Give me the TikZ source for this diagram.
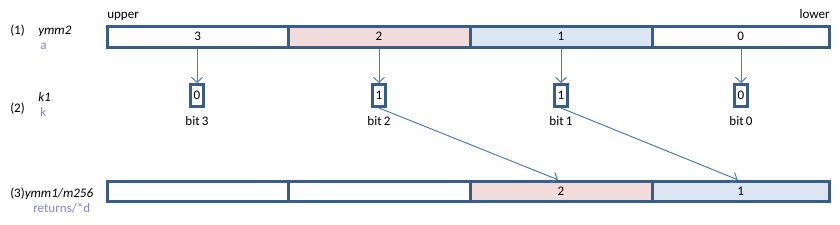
\documentclass[tikz,border=0pt]{standalone}
\usepackage{fontspec}
\setmainfont{Carlito}
\usetikzlibrary{arrows.meta}
\definecolor{bord}{HTML}{385D8A}
\definecolor{pinkc}{HTML}{F2DCDB}
\definecolor{bluec}{HTML}{DCE6F2}
\definecolor{arr}{HTML}{4A7EBB}
\definecolor{lab}{HTML}{8080F0}
\def\px{0.75pt}
\tikzset{
  cell/.style={draw=bord, line width=3*\px, minimum height=20.5*\px, inner sep=0pt, font=\fontsize{9.8}{11}\selectfont},
  bitbox/.style={draw=bord, line width=3*\px, minimum width=13*\px, minimum height=22*\px, inner sep=0pt, font=\fontsize{9.8}{11}\selectfont},
  txt/.style={anchor=base west, inner sep=0pt, font=\fontsize{9.8}{11}\selectfont},
  ctxt/.style={anchor=base, inner sep=0pt, font=\fontsize{9.8}{11}\selectfont},
  lbl/.style={txt, text=lab},
  conn/.style={draw=arr, line width=1*\px, -{Straight Barb[length=5*\px, width=11*\px]}},
}
\begin{document}
\begin{tikzpicture}[x=0.75pt, y=-0.75pt]
\useasboundingbox (0,0) rectangle (840,225);
% top bar
\node[cell, fill=white, minimum width=180.5*\px] (t3) at (197.75,36.75) {3};
\node[cell, fill=pinkc, minimum width=182*\px] (t2) at (379,36.75) {2};
\node[cell, fill=bluec, minimum width=182*\px] (t1) at (561,36.75) {1};
\node[cell, fill=white, minimum width=177.5*\px] (t0) at (740.75,36.75) {0};
% bottom bar
\node[cell, fill=white, minimum width=180.5*\px] (r3) at (197.75,191.5) {};
\node[cell, fill=white, minimum width=182*\px] (r2) at (379,191.5) {};
\node[cell, fill=pinkc, minimum width=182*\px] (r1) at (561,191.5) {2};
\node[cell, fill=bluec, minimum width=177.5*\px] (r0) at (740.75,191.5) {1};
% bit boxes
\node[bitbox] (b3) at (197,95.5) {0};
\node[bitbox] (b2) at (379,95.5) {1};
\node[bitbox] (b1) at (561,95.5) {1};
\node[bitbox] (b0) at (741,95.5) {0};
\node[ctxt] (l3) at (197,125) {bit\,3};
\node[ctxt] (l2) at (379,125) {bit\,2};
\node[ctxt] (l1) at (561,125) {bit\,1};
\node[ctxt] (l0) at (741,125) {bit\,0};
% connectors
\draw[conn] (t3.south -| b3) -- (b3.north);
\draw[conn] (t2.south -| b2) -- (b2.north);
\draw[conn] (t1.south -| b1) -- (b1.north);
\draw[conn] (t0.south -| b0) -- (b0.north);
\coordinate (e1) at ([xshift=-3*\px]r1.north);
\coordinate (e0) at ([xshift=-3*\px]r0.north);
\draw[conn] (b2.south) -- (e1);
\draw[conn] (b1.south) -- (e0);
% labels
\node[txt] (up) at (107,18.3) {upper};
\node[txt, anchor=base east] (lo) at (830,18) {lower};
\node[txt] (n1) at (10,35) {(1)};
\node[txt] (s1) at (38,34.5) {\itshape ymm2};
\node[lbl] (a1) at (40,50) {a};
\node[txt] (n2) at (10,112) {(2)};
\node[txt] (s2) at (38,101) {\itshape k1};
\node[lbl] (a2) at (40,116.5) {k};
\node[txt] (n3) at (10,197) {(3)\itshape ymm1/m256};
\node[lbl] (a3) at (33,212.7) {returns/*d};
\end{tikzpicture}
\end{document}
